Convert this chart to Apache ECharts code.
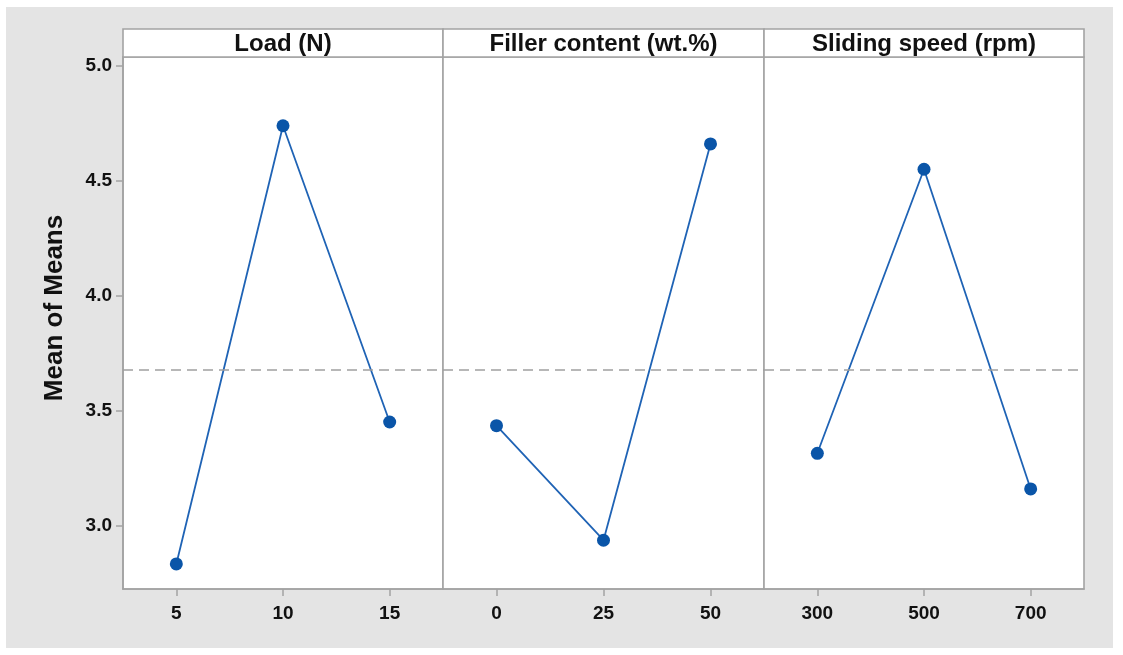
<!DOCTYPE html>
<html>
<head>
<meta charset="utf-8">
<style>
  html, body { margin: 0; padding: 0; background: #ffffff; }
  #chart { width: 1123px; height: 655px; }
</style>
<script src="https://cdn.jsdelivr.net/npm/echarts@6/dist/echarts.min.js"></script>
</head>
<body>
<div id="chart"></div>
<script>
// Main effects plot for means: three factors, three levels each
const factorNames = ['Load (N)', 'Filler content (wt.%)', 'Sliding speed (rpm)'];
const loadLevels = ['5', '10', '15'];
const fillerLevels = ['0', '25', '50'];
const speedLevels = ['300', '500', '700'];
const loadMeans = [2.835, 4.740, 3.452];
const fillerMeans = [3.436, 2.938, 4.661];
const speedMeans = [3.316, 4.551, 3.161];
const yTickValues = [3.0, 3.5, 4.0, 4.5, 5.0];
const yAxisTitle = 'Mean of Means';

const levels = [loadLevels, fillerLevels, speedLevels];
const means = [loadMeans, fillerMeans, speedMeans];

// overall mean of all level means (reference line)
const allMeans = loadMeans.concat(fillerMeans, speedMeans);
const grandMean = allMeans.reduce((a, b) => a + b, 0) / allMeans.length;

const FONT = '"Liberation Sans", Arial, Helvetica, sans-serif';
const FRAME = '#a3a3a3';
const Y_MIN = 2.726, Y_MAX = 5.039;

const panels = [
  { left: 123, width: 320 },
  { left: 443, width: 321 },
  { left: 764, width: 320 }
];
const TOP = 57, BOTTOM_Y = 589, HEADER_TOP = 29;

const grids = panels.map(p => ({
  left: p.left, width: p.width, top: TOP, height: BOTTOM_Y - TOP,
  show: true, backgroundColor: '#ffffff', borderColor: FRAME, borderWidth: 1.6
}));

const xAxes = levels.map((cats, i) => ({
  type: 'category', gridIndex: i, data: cats, boundaryGap: true,
  axisLine: { show: true, lineStyle: { color: FRAME, width: 1.6 } },
  axisTick: { show: true, alignWithLabel: true, length: 7, lineStyle: { color: FRAME, width: 1.5 } },
  axisLabel: { color: '#111111', fontFamily: FONT, fontWeight: 'bold', fontSize: 19, margin: 15 },
  splitLine: { show: false }
}));

const yAxes = levels.map((_, i) => ({
  type: 'value', gridIndex: i, min: Y_MIN, max: Y_MAX,
  show: i === 0,
  axisLine: { show: true, lineStyle: { color: FRAME, width: 1.6 } },
  axisTick: { show: true, length: 7, customValues: yTickValues, lineStyle: { color: FRAME, width: 1.5 } },
  axisLabel: {
    color: '#111111', fontFamily: FONT, fontWeight: 'bold', fontSize: 19, margin: 11,
    padding: [4, 0, 0, 0],
    customValues: yTickValues, formatter: v => v.toFixed(1)
  },
  splitLine: { show: false }
}));

const series = means.map((vals, i) => ({
  type: 'line', xAxisIndex: i, yAxisIndex: i, data: vals,
  symbol: 'circle', symbolSize: 13,
  itemStyle: { color: '#0a55a8' },
  lineStyle: { color: '#1f63b5', width: 1.8 },
  silent: true,
  markLine: {
    silent: true, symbol: 'none', label: { show: false },
    lineStyle: { color: '#a0a0a0', type: [10, 6], width: 1.6 },
    data: [{ yAxis: grandMean }]
  },
  z: 3
}));

// panel header strips with factor names
const headerGraphics = [];
panels.forEach((p, i) => {
  headerGraphics.push({
    type: 'rect',
    shape: { x: p.left, y: HEADER_TOP, width: p.width, height: TOP - HEADER_TOP },
    style: { fill: '#ffffff', stroke: FRAME, lineWidth: 1.6 },
    z: 1
  });
  headerGraphics.push({
    type: 'text',
    x: p.left + p.width / 2, y: (HEADER_TOP + TOP) / 2 + 1,
    style: {
      text: factorNames[i], fill: '#111111', font: 'bold 24px ' + FONT,
      textAlign: 'center', textVerticalAlign: 'middle'
    },
    z: 2
  });
});

// vertical y-axis title
const yTitle = {
  type: 'text',
  x: 55, y: 308, rotation: Math.PI / 2,
  style: {
    text: yAxisTitle, fill: '#111111', font: 'bold 26px ' + FONT,
    textAlign: 'center', textVerticalAlign: 'middle'
  },
  z: 2
};

const option = {
  animation: false,
  backgroundColor: '#ffffff',
  graphic: [
    { type: 'rect', shape: { x: 6, y: 7, width: 1107, height: 641 }, style: { fill: '#e4e4e4' }, z: -10 }
  ].concat(headerGraphics, [yTitle]),
  grid: grids,
  xAxis: xAxes,
  yAxis: yAxes,
  series: series
};

const chart = echarts.init(document.getElementById('chart'), null, { renderer: 'canvas' });
chart.setOption(option);
</script>
</body>
</html>
